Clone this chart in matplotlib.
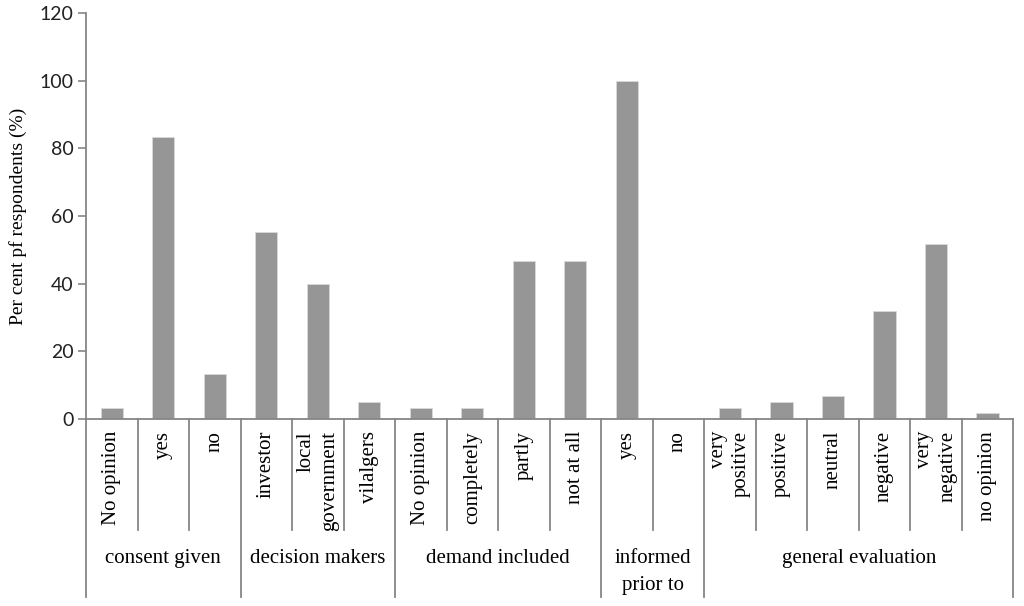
import matplotlib
matplotlib.use('Agg')
import matplotlib.pyplot as plt
import matplotlib.transforms as mtransforms

# category labels, grouped
groups = ['consent given', 'decision makers', 'demand included', 'informed\nprior to', 'general evaluation']
group_sizes = [3, 3, 4, 2, 6]
categories = ['No opinion', 'yes', 'no',
              'investor', 'local\ngovernment', 'vilalgers',
              'No opinion', 'completely', 'partly', 'not at all',
              'yes', 'no',
              'very\npositive', 'positive', 'neutral', 'negative', 'very\nnegative', 'no opinion']
values = [3.3, 83.4, 13.4,
          55.3, 40.0, 5.0,
          3.3, 3.3, 46.7, 46.7,
          100.0, 0.0,
          3.2, 4.9, 6.7, 31.8, 51.6, 1.8]
yticks = [0, 20, 40, 60, 80, 100, 120]

axis_col = '#868686'
bar_col = '#969696'
serif = 'Liberation Serif'

fig = plt.figure(figsize=(10.24, 6.06), dpi=100)
W, H = 1024, 606
ax = fig.add_axes([86/W, (H-419)/H, (1013.3-86)/W, 406/H])

n = len(categories)
xs = [i + 0.5 for i in range(n)]
ax.bar(xs, values, width=0.43, color=bar_col, edgecolor='#d9d9d9', linewidth=0.6, zorder=2)

ax.set_xlim(0, n)
ax.set_ylim(0, 120)
ax.set_yticks(yticks)
ax.set_xticks([])
for lab in ax.get_yticklabels():
    lab.set_fontfamily('Lato')
    lab.set_fontsize(14)
    lab.set_color('#222222')
ax.tick_params(axis='y', direction='out', length=6, width=1.2, color=axis_col, pad=3)

for s in ['top', 'right']:
    ax.spines[s].set_visible(False)
ax.spines['left'].set_color(axis_col)
ax.spines['left'].set_linewidth(1.3)
ax.spines['bottom'].set_color(axis_col)
ax.spines['bottom'].set_linewidth(1.3)

ax.set_ylabel('Per cent pf respondents (%)', fontfamily=serif, fontsize=14, labelpad=9)

trans = mtransforms.blended_transform_factory(ax.transData, ax.transAxes)
cat_bottom = (419 - 530) / 406
grp_bottom = (419 - 597) / 406

# separators between categories and between groups
bounds = [0]
for g in group_sizes:
    bounds.append(bounds[-1] + g)
for i in range(n + 1):
    y0 = grp_bottom if i in bounds else cat_bottom
    ax.plot([i, i], [0, y0], color=axis_col, linewidth=1.3, transform=trans, clip_on=False)

# category labels
lab_top = (419 - 431) / 406
for x, c in zip(xs, categories):
    ax.text(x, lab_top, c, transform=trans, rotation=90, ha='center', va='top',
            multialignment='right', fontfamily=serif, fontsize=15, linespacing=1.3)

# group labels
grp_y = (419 - 549) / 406
for k, g in enumerate(groups):
    cx = (bounds[k] + bounds[k + 1]) / 2
    ax.text(cx, grp_y, g, transform=trans, ha='center', va='top',
            fontfamily=serif, fontsize=15, linespacing=1.55)

fig.savefig('out.png', dpi=100)
